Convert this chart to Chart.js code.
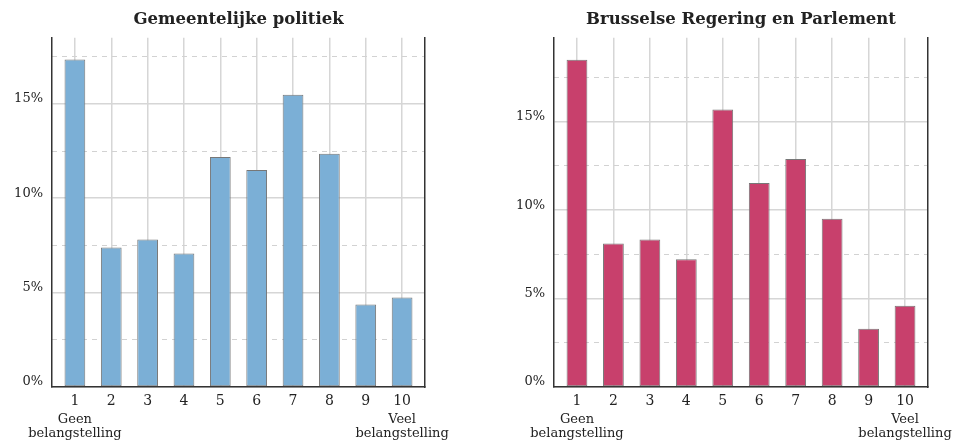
<!DOCTYPE html>
<html>
<head>
<meta charset="utf-8">
<script src="https://cdn.jsdelivr.net/npm/chart.js@4/dist/chart.umd.min.js"></script>
<style>
body { margin: 0; background: #fff; }
.panel { position: absolute; top: 0; width: 480px; height: 443px; }
</style>
</head>
<body>
<div class="panel" style="left:0"><canvas id="leftChart" width="480" height="443"></canvas></div>
<div class="panel" style="left:480px"><canvas id="rightChart" width="480" height="443"></canvas></div>
<script>
// =========================
// DATA
// =========================
const categories = [1, 2, 3, 4, 5, 6, 7, 8, 9, 10];
const endLabels = { 1: ["Geen", "belangstelling"], 10: ["Veel", "belangstelling"] };
const gemeenteValues = [17.35, 7.39, 7.81, 7.07, 12.18, 11.49, 15.48, 12.36, 4.37, 4.74];
const brusselValues = [18.51, 8.12, 8.34, 7.23, 15.69, 11.54, 12.9, 9.51, 3.29, 4.59];
const yTicks = [0, 5, 10, 15];

const FONT = "'DejaVu Serif', serif";
const X_MIN = 0.37, X_MAX = 10.63;

function makeChart(id, title, values, color, yMax, yWidth, padRight) {
    return new Chart(document.getElementById(id), {
        type: "bar",
        data: {
            datasets: [{
                data: categories.map((c, i) => ({ x: c, y: values[i] })),
                backgroundColor: color,
                borderColor: "#777",
                borderWidth: 1,
                borderSkipped: false,
                barPercentage: 0.57,
                categoryPercentage: 1
            }]
        },
        options: {
            responsive: false,
            animation: false,
            layout: { padding: { top: 0, right: padRight, bottom: 0, left: 0 } },
            plugins: {
                legend: { display: false },
                tooltip: { enabled: false },
                title: {
                    display: true,
                    text: title,
                    fullSize: false,
                    color: "#222",
                    font: { family: FONT, size: 16.5, weight: "bold" },
                    padding: { top: 10, bottom: 8 }
                }
            },
            scales: {
                x: {
                    type: "linear",
                    offset: false,
                    min: X_MIN, max: X_MAX,
                    afterBuildTicks: s => { s.ticks = categories.map(v => ({ value: v })); },
                    afterFit: s => { s.height = 23; },
                    grid: { offset: false, color: "#d6d6d6", lineWidth: 1.5, drawTicks: false },
                    border: { color: "#333", width: 1.5 },
                    ticks: {
                        padding: 6, color: "#222", autoSkip: false, maxRotation: 0,
                        font: { family: FONT, size: 14 },
                        callback: v => String(v)
                    }
                },
                x2: {
                    type: "linear",
                    position: "bottom",
                    offset: false,
                    min: X_MIN, max: X_MAX,
                    afterBuildTicks: s => { s.ticks = Object.keys(endLabels).map(k => ({ value: +k })); },
                    afterFit: s => { s.height = 33; },
                    grid: { display: false, drawTicks: false },
                    border: { display: false },
                    ticks: {
                        padding: 2, color: "#222", autoSkip: false, maxRotation: 0,
                        font: { family: FONT, size: 13, lineHeight: 1.12 },
                        callback: v => endLabels[v]
                    }
                },
                y: {
                    min: 0, max: yMax,
                    afterBuildTicks: s => { s.ticks = yTicks.map(v => ({ value: v })); },
                    afterFit: s => { s.width = yWidth; },
                    grid: { color: "#d6d6d6", lineWidth: 1.5, drawTicks: false },
                    border: { color: "#333", width: 1.5 },
                    ticks: {
                        padding: 9, color: "#222", labelOffset: -5,
                        font: { family: FONT, size: 13 },
                        callback: v => v + "%"
                    }
                },
                y2: {
                    position: "right",
                    min: 0, max: yMax,
                    // dashed half-step lines
                    afterBuildTicks: s => { s.ticks = yTicks.map(v => ({ value: v + 2.5 })).filter(t => t.value < yMax); },
                    afterFit: s => { s.width = 0; },
                    grid: { color: "#d2d2d2", lineWidth: 1, drawTicks: false },
                    border: { color: "#333", width: 1.5, dash: [5, 5] },
                    ticks: { display: false }
                }
            }
        }
    });
}

makeChart("leftChart", "Gemeentelijke politiek", gemeenteValues, "#7bafd6", 18.5, 52, 55);
makeChart("rightChart", "Brusselse Regering en Parlement", brusselValues, "#c8406c", 19.75, 74, 32);
</script>
</body>
</html>
